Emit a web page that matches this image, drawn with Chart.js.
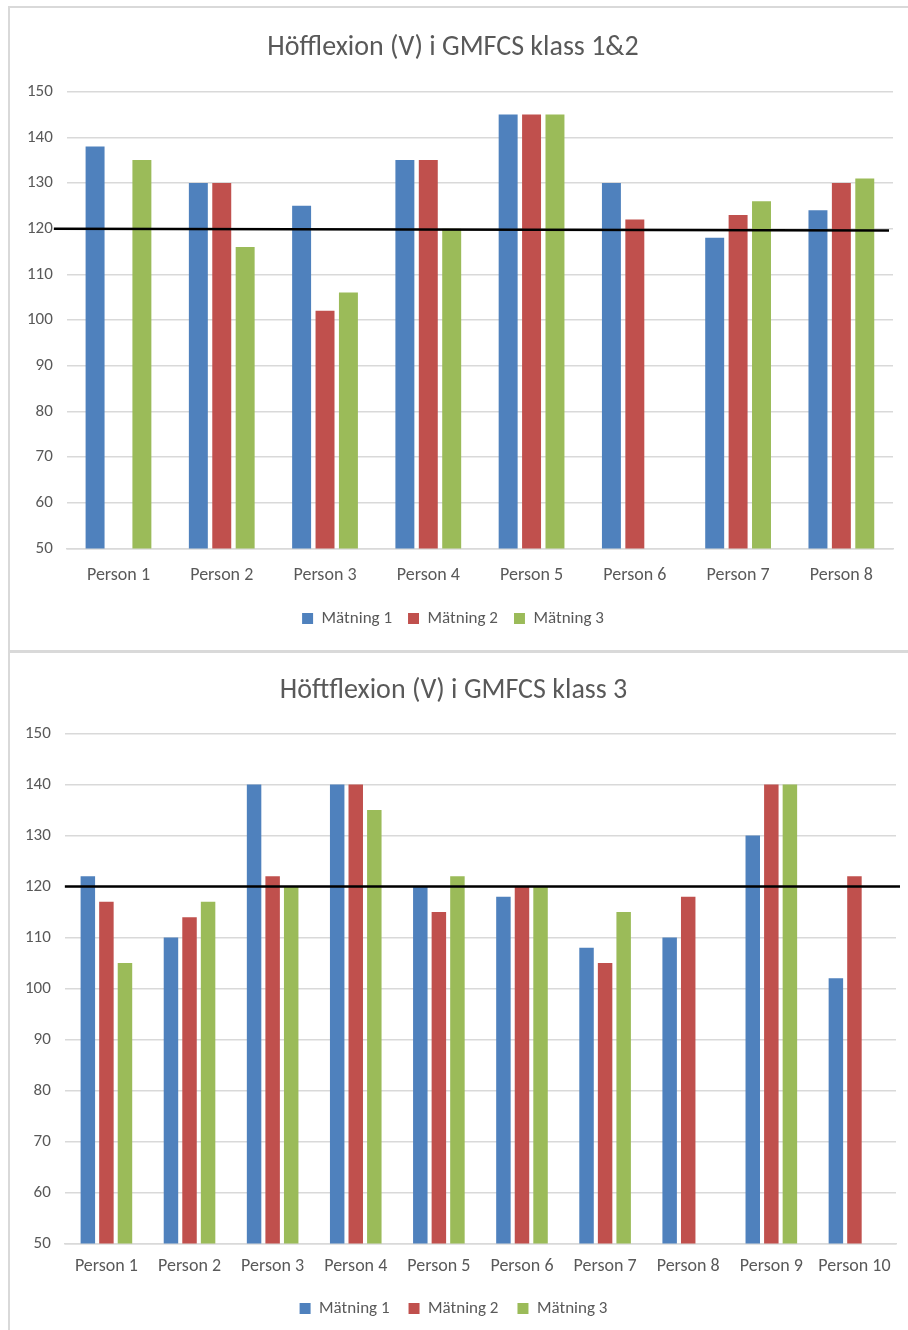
<!DOCTYPE html>
<html>
<head>
<meta charset="utf-8">
<script src="https://cdn.jsdelivr.net/npm/chart.js@4"></script>
<style>
  html, body { margin: 0; padding: 0; background: #fff; }
  body { width: 908px; height: 1330px; position: relative; overflow: hidden; }
  .box { position: absolute; left: 8px; border-left: 2px solid #d9d9d9; border-top: 2px solid #d9d9d9; background: #fff; }
  #box1 { top: 6px; width: 910px; height: 643px; }
  #box2 { top: 650px; width: 910px; height: 690px; border-top-width: 3px; }
  canvas { display: block; }
</style>
</head>
<body>
<div class="box" id="box1"><canvas id="c1" width="898" height="643"></canvas></div>
<div class="box" id="box2"><canvas id="c2" width="898" height="680"></canvas></div>
<script>
// Hip flexion (left side), GMFCS level 1 & 2
const title1 = 'Höfflexion (V) i GMFCS klass 1&2';
const persons1 = ['Person 1', 'Person 2', 'Person 3', 'Person 4', 'Person 5', 'Person 6', 'Person 7', 'Person 8'];
const matning1a = [138, 130, 125, 135, 145, 130, 118, 124];
const matning2a = [null, 130, 102, 135, 145, 122, 123, 130];
const matning3a = [135, 116, 106, 120, 145, null, 126, 131];
const refLine1 = [120, 119.6];

// Hip flexion (left side), GMFCS level 3
const title2 = 'Höftflexion (V) i GMFCS klass 3';
const persons2 = ['Person 1', 'Person 2', 'Person 3', 'Person 4', 'Person 5', 'Person 6', 'Person 7', 'Person 8', 'Person 9', 'Person 10'];
const matning1b = [122, 110, 140, 140, 120, 118, 108, 110, 130, 102];
const matning2b = [117, 114, 122, 140, 115, 120, 105, 118, 140, 122];
const matning3b = [105, 117, 120, 135, 122, 120, 115, null, 140, null];
const refLine2 = [120, 120];

const seriesNames = ['Mätning 1', 'Mätning 2', 'Mätning 3'];
const yTicks = [50, 60, 70, 80, 90, 100, 110, 120, 130, 140, 150];

const COLORS = ['#4F81BD', '#C0504D', '#9BBB59'];
const FONT = "Carlito, 'Liberation Sans Narrow', 'Liberation Sans', sans-serif";
const TEXT = '#595959';

// Black reference line drawn across the plot at the given y values
const refLinePlugin = {
  id: 'refLine',
  afterDatasetsDraw(chart, args, opts) {
    const y = chart.scales.y, area = chart.chartArea, ctx = chart.ctx;
    ctx.save();
    ctx.strokeStyle = '#000';
    ctx.lineWidth = 2.5;
    ctx.beginPath();
    ctx.moveTo(area.left + opts.extendLeft, y.getPixelForValue(opts.values[0]));
    ctx.lineTo(area.right + opts.extendRight, y.getPixelForValue(opts.values[1]));
    ctx.stroke();
    ctx.restore();
  }
};

function makeChart(id, title, labels, series, ref, cfg) {
  return new Chart(document.getElementById(id), {
    type: 'bar',
    data: {
      labels: labels,
      datasets: series.map((d, i) => ({
        label: seriesNames[i],
        data: d,
        backgroundColor: COLORS[i],
        borderWidth: 0,
        categoryPercentage: cfg.cat,
        barPercentage: cfg.bar
      }))
    },
    options: {
      responsive: false,
      animation: false,
      layout: { padding: cfg.padding },
      plugins: {
        title: {
          display: true, text: title, color: TEXT,
          font: { family: FONT, size: cfg.titleSize, weight: 'normal' },
          padding: { top: 0, bottom: cfg.titleGap }
        },
        legend: {
          position: 'bottom',
          labels: {
            color: TEXT, boxWidth: 11, boxHeight: 11, padding: cfg.legendPad,
            font: { family: FONT, size: 17 }
          }
        },
        tooltip: { enabled: false },
        refLine: { values: ref, extendLeft: cfg.extL, extendRight: cfg.extR }
      },
      scales: {
        x: {
          grid: { display: false },
          border: { color: '#d9d9d9', width: 1.5 },
          ticks: { color: TEXT, font: { family: FONT, size: 18 }, padding: cfg.xPad, maxRotation: 0 }
        },
        y: {
          min: 50, max: 150,
          afterBuildTicks: s => { s.ticks = yTicks.map(v => ({ value: v })); },
          grid: { color: '#d9d9d9', lineWidth: 1.5, drawTicks: false },
          border: { display: false },
          ticks: { color: TEXT, font: { family: FONT, size: 17 }, padding: 14 }
        }
      }
    },
    plugins: [refLinePlugin]
  });
}

makeChart('c1', title1, persons1, [matning1a, matning2a, matning3a], refLine1, {
  cat: 0.68, bar: 0.81, titleSize: 28, titleGap: 27, legendPad: 16, xPad: 8,
  padding: { left: 3, right: 15, top: 23, bottom: 14 }, extL: -13, extR: -4
});
makeChart('c2', title2, persons2, [matning1b, matning2b, matning3b], refLine2, {
  cat: 0.67, bar: 0.78, titleSize: 28, titleGap: 26, legendPad: 19, xPad: 4,
  padding: { left: 1, right: 12, top: 21, bottom: 6 }, extL: 0, extR: 4
});
</script>
</body>
</html>
